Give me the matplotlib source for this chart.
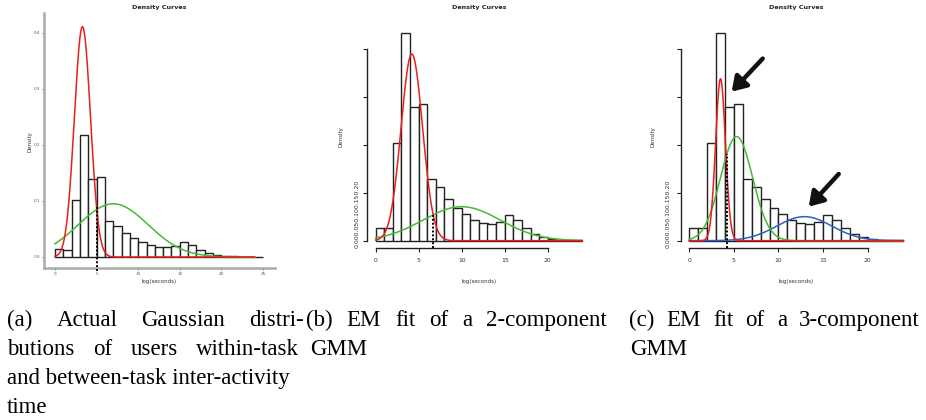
import numpy as np
import matplotlib
matplotlib.use("Agg")
import matplotlib.pyplot as plt

W, H = 926, 420

# ---------------- data ----------------
bin_edges = list(range(0, 26))
hist_density = [0.0135, 0.013, 0.102, 0.217, 0.140, 0.143, 0.064, 0.056, 0.043,
                 0.034, 0.0275, 0.0215, 0.0185, 0.017, 0.019, 0.0265, 0.0215,
                 0.013, 0.0075, 0.0035, 0.002, 0.001, 0.0006, 0.0004, 0.0002]

# Gaussian components: (mean, sd, weight)
comp_a = {"red": (3.3, 0.97, 1.0), "green": (7.0, 4.2, 1.0)}
comp_b = {"red": (4.2, 1.25, 0.61), "green": (10.0, 4.5, 0.40)}
comp_c = {"red": (3.5, 0.55, 0.233), "green": (5.3, 1.8, 0.49), "blue": (12.9, 3.1, 0.195)}
boundary_a = 5.0
boundary_b = 6.7
boundary_c = 4.22

arrows_c_tail = [(8.23, 0.190), (16.75, 0.0696)]
arrows_c_head = [(4.75, 0.1555), (13.39, 0.0355)]

xticks_a = [0, 5, 10, 15, 20, 25]
yticks_a = [0.0, 0.1, 0.2, 0.3, 0.4]
xticks_bc = [0, 5, 10, 15, 20]
yticks_bc = [0.0, 0.05, 0.10, 0.15, 0.20]
ytick_string_bc = "0.000.050.100.150.20"

title_text = "Density Curves"
xlabel_text = "log(seconds)"
ylabel_text = "Density"

caption_a = ["(a) Actual Gaussian distri-", "butions of users within-task",
             "and between-task inter-activity", "time"]
caption_b = ["(b) EM fit of a 2-component", "GMM"]
caption_c = ["(c) EM fit of a 3-component", "GMM"]

colors = {"red": "#EE1C1C", "green": "#44BB33", "blue": "#2A62C4"}

# ---------------- helpers ----------------
fig = plt.figure(figsize=(W / 100, H / 100), dpi=100)


def px_axes(l, t, r, b):
    return fig.add_axes([l / W, 1 - b / H, (r - l) / W, (b - t) / H])


def npdf(x, m, s, w):
    return w * np.exp(-0.5 * ((x - m) / s) ** 2) / (s * np.sqrt(2 * np.pi))


def draw_hist(ax, nbins, lw, ec):
    edges = np.array(bin_edges[: nbins + 1])
    vals = np.array(hist_density[:nbins])
    ax.bar(edges[:-1], vals, width=1.0, align="edge", facecolor="white",
           edgecolor=ec, linewidth=lw, zorder=2, clip_on=False)


def draw_curves(ax, comps, order, lw, xmax=24):
    xs = np.linspace(0, xmax, 600)
    for name in order:
        m, s, w = comps[name]
        ax.plot(xs, npdf(xs, m, s, w), color=colors[name], lw=lw, zorder=3,
                clip_on=False)


def draw_boundary(ax, comps, bx, ybottom):
    top = max(npdf(bx, *comps[k]) for k in comps)
    ax.plot([bx, bx], [ybottom, top], color="black", lw=1.4, ls=(0, (1, 1)),
            zorder=4, clip_on=False)


# overlay for free text in pixel coordinates
ov = fig.add_axes([0, 0, 1, 1], zorder=10)
ov.set_xlim(0, W)
ov.set_ylim(H, 0)
ov.axis("off")
ov.patch.set_alpha(0)

# ---------------- panel (a) ----------------
x0a, ppu_xa = 55.0, 8.32
y0a, ppu_ya = 257.0, 560.0
axa = px_axes(44, 13, 275, 268)
axa.set_xlim((44 - x0a) / ppu_xa, (275 - x0a) / ppu_xa)
axa.set_ylim((y0a - 268) / ppu_ya, (y0a - 13) / ppu_ya)
axa.patch.set_alpha(0)
for sp in ["top", "right"]:
    axa.spines[sp].set_visible(False)
for sp in ["left", "bottom"]:
    axa.spines[sp].set_color("#AAAAAA")
    axa.spines[sp].set_linewidth(1.8)
axa.set_xticks(xticks_a)
axa.set_xticklabels([str(v) for v in xticks_a])
axa.set_yticks(yticks_a)
axa.set_yticklabels([f"{v:.1f}" for v in yticks_a])
axa.tick_params(axis="both", labelsize=3, colors="#555555", length=1.5,
                width=0.6, pad=1.5)
draw_hist(axa, 25, 1.0, "#222222")
draw_curves(axa, comp_a, ["green", "red"], 1.1)
draw_boundary(axa, comp_a, boundary_a, (y0a - 271) / ppu_ya)

# ---------------- panels (b) and (c) ----------------
def r_panel(x0, ppu_x, comps, order, bx):
    y0, ppu_y = 240.7, 958.5
    l = x0 - 0.96 * ppu_x
    r = x0 + 24.96 * ppu_x
    ax = px_axes(l, 20, r, 248.3)
    ax.set_xlim(-0.96, 24.96)
    ax.set_ylim((y0 - 248.3) / ppu_y, (y0 - 20) / ppu_y)
    ax.patch.set_alpha(0)
    for sp in ["top", "right"]:
        ax.spines[sp].set_visible(False)
    ax.spines["left"].set_bounds(0, 0.20)
    ax.spines["bottom"].set_bounds(0, 20)
    for sp in ["left", "bottom"]:
        ax.spines[sp].set_linewidth(1.0)
        ax.spines[sp].set_color("#222222")
    ax.set_xticks(xticks_bc)
    ax.set_xticklabels([str(v) for v in xticks_bc])
    ax.set_yticks(yticks_bc)
    ax.set_yticklabels([])
    ax.tick_params(axis="both", labelsize=4.3, colors="#222222",
                   labelcolor="#333333", length=3, width=0.8, pad=4)
    draw_hist(ax, 24, 1.0, "#222222")
    draw_curves(ax, comps, order, 1.1)
    draw_boundary(ax, comps, bx, (y0 - 248.3) / ppu_y)
    return ax, l, r


axb, lb, rb = r_panel(375.7, 8.6, comp_b, ["green", "red"], boundary_b)
axc, lc, rc = r_panel(689.3, 8.92, comp_c, ["blue", "green", "red"], boundary_c)

for tail, head in zip(arrows_c_tail, arrows_c_head):
    axc.annotate("", xy=head, xytext=tail,
                 arrowprops=dict(arrowstyle="-|>,head_length=0.7,head_width=0.45",
                                 lw=3.2, color="#111111", shrinkA=0, shrinkB=0,
                                 mutation_scale=12),
                 zorder=6)

# ---------------- panel text ----------------
for cx, ylx, yly, ytx in [(159, 30, 142, None), (479, 341, 137, 357), (796, 653, 137, 668)]:
    ov.text(cx, 7, title_text, ha="center", va="center", fontsize=4.6,
            fontweight="bold", color="#222222")
    ov.text(cx, 282, xlabel_text, ha="center", va="center", fontsize=4.0,
            color="#333333")
    ov.text(ylx, yly, ylabel_text, ha="center", va="center", fontsize=4.0,
            rotation=90, color="#333333")
    if ytx is not None:
        ov.text(ytx, 248, ytick_string_bc, ha="center", va="bottom",
                fontsize=4.5, rotation=90, color="#333333")

# ---------------- captions ----------------
renderer = fig.canvas.get_renderer()
cap_font = dict(fontsize=16.5, family="Liberation Serif", color="black",
                va="baseline")


def put_line(text, x0, y, x1=None):
    if x1 is None:
        ov.text(x0, y, text, ha="left", **cap_font)
        return
    words = text.split(" ")
    ts = [ov.text(0, y, w, ha="left", **cap_font) for w in words]
    widths = [t.get_window_extent(renderer).width for t in ts]
    gap = (x1 - x0 - sum(widths)) / (len(words) - 1)
    x = x0
    for t, w in zip(ts, widths):
        t.set_x(x)
        x += w + gap


base = [326, 355, 384, 413]
put_line(caption_a[0], 7, base[0], 304)
put_line(caption_a[1], 7, base[1], 299)
put_line(caption_a[2], 7, base[2])
put_line(caption_a[3], 7, base[3])
put_line(caption_b[0], 306, base[0], 607)
put_line(caption_b[1], 310, base[1])
put_line(caption_c[0], 629, base[0], 920)
put_line(caption_c[1], 630, base[1])

fig.savefig("out.png", dpi=100)
